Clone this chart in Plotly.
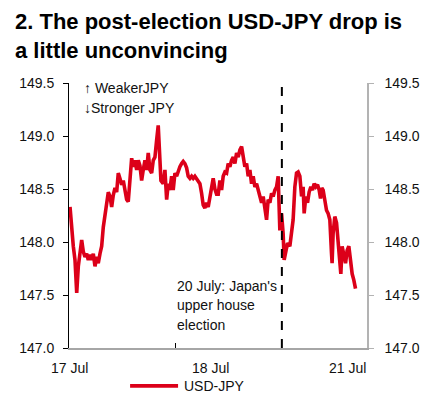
import plotly.graph_objects as go

# Trading hours since 17 Jul 00:00 (weekend removed; 21 Jul opens at hour 48)
hours = [0.23, 0.61, 0.97, 1.35, 1.74, 2.10, 2.48, 2.86, 3.22, 3.61, 3.99, 4.35, 4.73, 5.12, 5.48,
         5.86, 6.24, 6.60, 6.99, 7.37, 7.73, 8.11, 8.50, 8.86, 9.24, 9.62, 9.98, 10.37, 10.75, 11.11,
         11.49, 11.88, 12.24, 12.62, 13.00, 13.36, 13.75, 14.13, 14.49, 14.87, 15.26, 15.62, 16.00,
         16.38, 16.74, 17.13, 17.51, 17.87, 18.25, 18.64, 19.00, 19.38, 19.76, 20.12, 20.51, 20.73,
         21.25, 21.63, 22.02, 22.38, 22.76, 23.14, 23.50, 23.89, 24.27, 24.63, 25.01, 25.40, 25.76,
         26.14, 26.52, 26.88, 27.27, 27.65, 28.01, 28.39, 28.78, 29.14, 29.52, 29.90, 30.26, 30.65,
         31.03, 31.39, 31.77, 32.16, 32.52, 32.90, 33.28, 33.65, 34.03, 34.41, 34.77, 35.15, 35.54,
         35.90, 36.28, 36.66, 37.03, 37.41, 37.79, 38.15, 38.54, 38.92, 39.28, 39.66, 40.05, 40.41,
         40.79, 41.17, 41.53, 41.92, 42.30, 42.66, 43.04, 43.43, 43.79, 44.17, 44.55, 44.91, 45.30,
         45.68, 46.04, 46.42, 46.81, 47.17, 47.39, 47.55, 47.93, 48.29, 48.52, 48.83, 49.28, 49.80,
         50.32, 50.54, 50.93, 51.31, 51.67, 52.06, 52.44, 52.80, 53.03, 53.41, 53.79, 54.15, 54.54,
         54.92, 55.28, 55.66, 56.05, 56.41, 56.72, 57.01, 57.31, 57.69, 58.07, 58.43, 58.82, 59.20,
         59.33, 59.56, 59.94, 60.33, 60.69, 61.07, 61.30, 61.59, 61.97, 62.36, 62.72, 63.10, 63.48,
         63.85, 64.23, 64.61]

usdjpy = [148.33, 148.11, 147.96, 147.83, 147.52, 147.77, 147.89, 148.02, 147.91, 147.86, 147.89,
          147.83, 147.88, 147.83, 147.89, 147.77, 147.86, 147.80, 147.89, 147.96, 148.14, 148.24,
          148.35, 148.47, 148.43, 148.33, 148.44, 148.51, 148.47, 148.65, 148.60, 148.54, 148.58,
          148.46, 148.40, 148.38, 148.58, 148.79, 148.71, 148.77, 148.68, 148.77, 148.72, 148.58,
          148.68, 148.77, 148.68, 148.84, 148.68, 148.65, 148.77, 148.80, 148.96, 149.10, 148.77,
          148.58, 148.55, 148.68, 148.40, 148.55, 148.49, 148.62, 148.49, 148.65, 148.62, 148.68,
          148.71, 148.74, 148.76, 148.74, 148.70, 148.62, 148.60, 148.62, 148.60, 148.62, 148.60,
          148.58, 148.55, 148.46, 148.35, 148.32, 148.37, 148.33, 148.43, 148.52, 148.60, 148.50,
          148.45, 148.45, 148.58, 148.49, 148.62, 148.66, 148.65, 148.74, 148.71, 148.77, 148.80,
          148.74, 148.84, 148.80, 148.87, 148.90, 148.80, 148.71, 148.74, 148.62, 148.68, 148.55,
          148.62, 148.52, 148.55, 148.49, 148.46, 148.37, 148.43, 148.30, 148.21, 148.40, 148.37,
          148.46, 148.43, 148.49, 148.52, 148.62, 148.37, 148.11, 148.27, 148.08, 147.83, 147.89,
          147.99, 147.96, 148.11, 148.21, 148.52, 148.65, 148.66, 148.62, 148.43, 148.52, 148.27,
          148.43, 148.37, 148.47, 148.52, 148.49, 148.55, 148.52, 148.54, 148.49, 148.41, 148.51,
          148.49, 148.40, 148.30, 148.27, 148.21, 147.89, 147.80, 148.08, 148.24, 148.18, 148.02,
          147.89, 147.70, 147.96, 147.89, 147.80, 147.92, 147.96, 147.83, 147.70, 147.64, 147.56]

day_labels = ["17 Jul", "18 Jul", "21 Jul"]
day_label_hours = [0, 31.8, 62.9]
day_tick_hours = [24]
election_hour = 48
y_ticks = [147.0, 147.5, 148.0, 148.5, 149.0, 149.5]
series_name = "USD-JPY"

RED = "#dc0019"
FONT = "Liberation Sans, Arial, sans-serif"

fig = go.Figure()
fig.add_trace(go.Scatter(x=hours, y=usdjpy, mode="lines", name=series_name,
                         line=dict(color=RED, width=3.6), showlegend=False))
fig.add_trace(go.Scatter(x=[hours[0]], y=[usdjpy[0]], yaxis="y2", mode="lines",
                         showlegend=False, hoverinfo="skip", line=dict(color="rgba(0,0,0,0)")))

fig.add_shape(type="line", x0=election_hour, x1=election_hour, xref="x", y0=0, y1=1, yref="paper",
              line=dict(color="black", width=2, dash="dash"))
# legend key (drawn below the plot)
fig.add_shape(type="line", x0=0.205, x1=0.366, xref="paper", y0=-0.143, y1=-0.143, yref="paper",
              line=dict(color=RED, width=3.6))

ann = []
for lbl, h in zip(day_labels, day_label_hours):
    ann.append(dict(x=h, y=-0.077, xref="x", yref="paper", text=lbl, showarrow=False,
                    xanchor="center", yanchor="middle", font=dict(size=14, color="#111")))
ann.append(dict(x=0.38, y=-0.143, xref="paper", yref="paper", text=series_name, showarrow=False,
                xanchor="left", yanchor="middle", font=dict(size=14, color="#111")))
ann.append(dict(x=0.044, y=0.981, xref="paper", yref="paper", text="↑ WeakerJPY", showarrow=False,
                xanchor="left", yanchor="middle", font=dict(size=14, color="#111")))
ann.append(dict(x=0.044, y=0.906, xref="paper", yref="paper", text="↓Stronger JPY", showarrow=False,
                xanchor="left", yanchor="middle", font=dict(size=14, color="#111")))
for txt, yy in zip(["20 July: Japan's", "upper house", "election"], [147.585, 147.403, 147.215]):
    ann.append(dict(x=24, y=yy, xref="x", yref="y", text=txt, showarrow=False,
                    xanchor="left", yanchor="middle", font=dict(size=14, color="#111")))
# title
ann.append(dict(x=-0.185, y=1.282, xref="paper", yref="paper", showarrow=False,
                xanchor="left", yanchor="top", align="left", borderpad=0,
                text="<b>2. The post-election USD-JPY drop is<br>a little unconvincing</b>",
                font=dict(family=FONT, size=22, color="black")))

fig.update_layout(
    width=437, height=399,
    margin=dict(l=61, r=78, t=75, b=59),
    paper_bgcolor="white", plot_bgcolor="white",
    font=dict(family=FONT, size=14, color="#111"),
    xaxis=dict(range=[0, 67.2], showgrid=False, zeroline=False, showline=True, automargin=False,
               linecolor="#a6a6a6", linewidth=1.5, ticks="inside", ticklen=5,
               tickcolor="black", tickvals=day_tick_hours, showticklabels=False),
    yaxis=dict(range=[147.0, 149.5], tickvals=y_ticks, tickformat=".1f", showgrid=False,
               automargin=False,
               zeroline=False, showline=True, linecolor="black", linewidth=1,
               ticks="outside", ticklen=5, tickcolor="black", ticklabelstandoff=6,
               tickfont=dict(size=14, color="#111")),
    yaxis2=dict(range=[147.0, 149.5], tickvals=y_ticks, tickformat=".1f", overlaying="y",
                automargin=False,
                side="right", showgrid=False, zeroline=False, showline=True,
                linecolor="#b3b3b3", linewidth=1.5, ticks="outside", ticklen=5,
                tickcolor="#b3b3b3", ticklabelstandoff=8, tickfont=dict(size=14, color="#111")),
    showlegend=False,
    annotations=ann,
)

fig.write_html("out.html")
